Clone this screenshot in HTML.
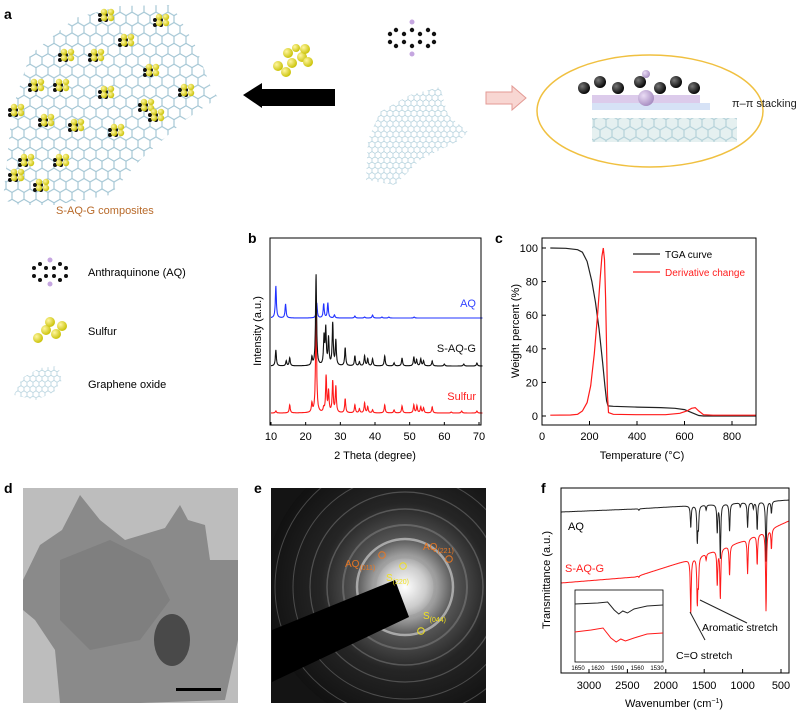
<!DOCTYPE html>
<html><head><meta charset="utf-8"><style>
html,body{margin:0;padding:0;background:#fff}
svg{display:block;font-family:"Liberation Sans",Arial,sans-serif}
</style></head><body>
<svg id="fig" width="796" height="712" viewBox="0 0 796 712" xmlns="http://www.w3.org/2000/svg">
<defs>
<pattern id="hex" width="12" height="20.8" patternUnits="userSpaceOnUse">
<path d="M0 5.2 L6 1.7 L12 5.2 M6 1.7 V-1.7 M0 5.2 V12.1 L6 15.6 L12 12.1 V5.2 M6 15.6 V20.8" fill="none" stroke="#9fc3d2" stroke-width="1.1"/>
</pattern>
<pattern id="hexs" width="6" height="10.4" patternUnits="userSpaceOnUse">
<path d="M0 2.6 L3 .9 L6 2.6 M3 .9 V-.9 M0 2.6 V6 L3 7.8 L6 6 V2.6 M3 7.8 V10.4" fill="none" stroke="#a9cbd8" stroke-width=".7"/>
</pattern>
<radialGradient id="glow" cx="0.5" cy="0.5" r="0.5">
<stop offset="0" stop-color="#fff"/><stop offset="0.15" stop-color="#ccc"/><stop offset="0.35" stop-color="#555"/><stop offset="0.6" stop-color="#252525"/><stop offset="1" stop-color="#111"/>
</radialGradient>
<radialGradient id="ball" cx="0.35" cy="0.35" r="0.7"><stop offset="0" stop-color="#fff6a0"/><stop offset="1" stop-color="#c8c000"/></radialGradient>
<radialGradient id="bball" cx="0.35" cy="0.35" r="0.7"><stop offset="0" stop-color="#777"/><stop offset="1" stop-color="#000"/></radialGradient>
<radialGradient id="pball" cx="0.35" cy="0.35" r="0.7"><stop offset="0" stop-color="#eadcf5"/><stop offset="1" stop-color="#a58bc0"/></radialGradient>
<clipPath id="clipE"><rect x="271" y="488" width="215" height="215"/></clipPath>
</defs>

<!-- Panel a -->
<text x="4" y="19" font-size="14" font-weight="bold">a</text>
<g>
<polygon points="3,200 12,110 30,55 75,18 120,6 172,5 195,45 210,85 218,98 185,120 140,160 110,195 55,205 20,205" fill="url(#hex)"/>
<g id="decor"></g>
</g>
<text x="56" y="214" font-size="11" fill="#b86a2a">S-AQ-G composites</text>
<g>
<circle cx="278" cy="66" r="5" fill="url(#ball)"/><circle cx="286" cy="72" r="5" fill="url(#ball)"/><circle cx="292" cy="63" r="5" fill="url(#ball)"/><circle cx="302" cy="57" r="5" fill="url(#ball)"/><circle cx="308" cy="62" r="5" fill="url(#ball)"/><circle cx="288" cy="53" r="5" fill="url(#ball)"/><circle cx="305" cy="49" r="5" fill="url(#ball)"/><circle cx="296" cy="48" r="4" fill="url(#ball)"/>
</g>
<g fill="#111">
<circle cx="412" cy="22" r="2.5" fill="#c5a6e0"/><circle cx="412" cy="54" r="2.5" fill="#c5a6e0"/>
<circle cx="390" cy="34" r="2.2"/><circle cx="390" cy="42" r="2.2"/><circle cx="396" cy="30" r="2.2"/><circle cx="396" cy="46" r="2.2"/><circle cx="404" cy="34" r="2.2"/><circle cx="404" cy="42" r="2.2"/><circle cx="412" cy="30" r="2.2"/><circle cx="412" cy="46" r="2.2"/><circle cx="420" cy="34" r="2.2"/><circle cx="420" cy="42" r="2.2"/><circle cx="428" cy="30" r="2.2"/><circle cx="428" cy="46" r="2.2"/><circle cx="434" cy="34" r="2.2"/><circle cx="434" cy="42" r="2.2"/>
</g>
<polygon points="243,95 262,83 262,89 335,89 335,106 262,106 262,108" fill="#000"/>
<polygon points="366,180 368,140 380,112 410,95 440,87 448,115 468,132 460,140 420,160 395,185" fill="url(#hexs)"/>
<polygon points="486,92 512,92 512,86 526,98 512,110 512,104 486,104" fill="#f8d6d2" stroke="#e39a94" stroke-width="1"/>
<g>
<ellipse cx="650" cy="111" rx="113" ry="56" fill="#fff" stroke="#f0c040" stroke-width="1.5"/>
<rect x="592" y="95" width="108" height="8" fill="#dccbeb"/>
<rect x="592" y="103" width="118" height="7" fill="#d6e2f6"/>
<rect x="592" y="118" width="145" height="24" fill="url(#hex)" opacity="0.9"/>
<rect x="592" y="118" width="145" height="24" fill="#bfdada" opacity="0.4"/>
<g id="stackballs"></g>
</g>
<text x="732" y="107" font-size="11" fill="#222">π–π stacking</text>

<g fill="#111">
<circle cx="50" cy="260" r="2.5" fill="#c5a6e0"/><circle cx="50" cy="284" r="2.5" fill="#c5a6e0"/>
<circle cx="34" cy="268" r="2"/><circle cx="34" cy="276" r="2"/><circle cx="40" cy="264" r="2"/><circle cx="40" cy="280" r="2"/><circle cx="46" cy="268" r="2"/><circle cx="46" cy="276" r="2"/><circle cx="54" cy="268" r="2"/><circle cx="54" cy="276" r="2"/><circle cx="60" cy="264" r="2"/><circle cx="60" cy="280" r="2"/><circle cx="66" cy="268" r="2"/><circle cx="66" cy="276" r="2"/>
</g>
<text x="88" y="276" font-size="11">Anthraquinone (AQ)</text>
<g>
<circle cx="38" cy="338" r="5" fill="url(#ball)"/><circle cx="46" cy="330" r="5" fill="url(#ball)"/><circle cx="56" cy="334" r="5" fill="url(#ball)"/><circle cx="62" cy="326" r="5" fill="url(#ball)"/><circle cx="50" cy="322" r="5" fill="url(#ball)"/>
</g>
<text x="88" y="335" font-size="11">Sulfur</text>
<polygon points="14,395 22,378 40,368 58,366 62,380 54,392 36,400" fill="url(#hexs)"/>
<text x="88" y="388" font-size="11">Graphene oxide</text>

<!-- Panel b -->
<text x="248" y="243" font-size="14" font-weight="bold">b</text>
<g id="pb"></g>
<rect x="270" y="238" width="211" height="187" fill="none" stroke="#000" stroke-width="1"/>
<text transform="translate(261,331) rotate(-90)" text-anchor="middle" font-size="11">Intensity (a.u.)</text>
<text x="375" y="459" text-anchor="middle" font-size="11">2 Theta (degree)</text>
<text x="476" y="307" text-anchor="end" font-size="11" fill="#3344ff">AQ</text>
<text x="476" y="352" text-anchor="end" font-size="11" fill="#111">S-AQ-G</text>
<text x="476" y="400" text-anchor="end" font-size="11" fill="#ff2020">Sulfur</text>

<!-- Panel c -->
<text x="495" y="243" font-size="14" font-weight="bold">c</text>
<g id="pc"></g>
<rect x="542" y="238" width="214" height="187" fill="none" stroke="#000" stroke-width="1"/>
<text transform="translate(519,331) rotate(-90)" text-anchor="middle" font-size="11">Weight percent (%)</text>
<text x="642" y="459" text-anchor="middle" font-size="11">Temperature (°C)</text>
<line x1="633" y1="254" x2="660" y2="254" stroke="#222" stroke-width="1.3"/>
<text x="665" y="258" font-size="10">TGA curve</text>
<line x1="633" y1="272" x2="660" y2="272" stroke="#ff2020" stroke-width="1.3"/>
<text x="665" y="276" font-size="10" fill="#ff2020">Derivative change</text>

<!-- Panel d -->
<text x="4" y="493" font-size="14" font-weight="bold">d</text>
<g>
<rect x="23" y="488" width="215" height="215" fill="#bdbdbd"/>
<path d="M23,580 L40,545 L62,530 L80,495 L100,520 L125,540 L165,528 L180,505 L188,520 L205,525 L210,560 L238,560 L238,640 L225,700 L140,703 L60,703 L55,650 L35,620 L23,610 Z" fill="#8a8a8a"/>
<path d="M60,560 L110,540 L150,560 L170,600 L140,640 L90,650 L60,620 Z" fill="#7a7a7a" opacity="0.7"/>
<ellipse cx="172" cy="640" rx="18" ry="26" fill="#333" opacity="0.75"/>
<rect x="176" y="688" width="45" height="3" fill="#000"/>
</g>

<!-- Panel e -->
<text x="254" y="493" font-size="14" font-weight="bold">e</text>
<g clip-path="url(#clipE)">
<rect x="271" y="488" width="215" height="215" fill="#141414"/>
<circle cx="405" cy="587" r="140" fill="url(#glow)"/>
<g fill="none" stroke="#999" stroke-opacity="0.4">
<circle cx="405" cy="587" r="30" stroke-width="3"/><circle cx="405" cy="587" r="48" stroke-width="2.5" stroke="#ddd" stroke-opacity="0.6"/><circle cx="405" cy="587" r="62" stroke-width="2"/><circle cx="405" cy="587" r="78" stroke-width="1.5"/><circle cx="405" cy="587" r="95" stroke-width="1.2"/><circle cx="405" cy="587" r="112" stroke-width="1"/><circle cx="405" cy="587" r="130" stroke-width="1"/>
</g>
<polygon points="272,630 395,580 409,617 272,682" fill="#000"/>
</g>
<g font-size="10">
<text x="423" y="550" fill="#e87722">AQ<tspan font-size="7" dy="3">(221)</tspan></text>
<circle cx="449" cy="559" r="3.3" fill="none" stroke="#e87722"/>
<text x="345" y="567" fill="#e87722">AQ<tspan font-size="7" dy="3">(011)</tspan></text>
<circle cx="382" cy="555" r="3.3" fill="none" stroke="#e87722"/>
<text x="386" y="581" fill="#f0e020">S<tspan font-size="7" dy="3">(220)</tspan></text>
<circle cx="403" cy="566" r="3.3" fill="none" stroke="#f0e020"/>
<text x="423" y="619" fill="#f0e020">S<tspan font-size="7" dy="3">(044)</tspan></text>
<circle cx="421" cy="631" r="3.3" fill="none" stroke="#f0e020"/>
</g>

<!-- Panel f -->
<text x="541" y="493" font-size="14" font-weight="bold">f</text>
<g id="pf"></g>
<rect x="561" y="488" width="228" height="185" fill="none" stroke="#000" stroke-width="1"/>
<text transform="translate(550,580) rotate(-90)" text-anchor="middle" font-size="11">Transmittance (a.u.)</text>
<text x="674" y="707" text-anchor="middle" font-size="11">Wavenumber (cm<tspan font-size="7" dy="-4">−1</tspan><tspan dy="4">)</tspan></text>
<text x="568" y="530" font-size="11">AQ</text>
<text x="565" y="572" font-size="11" fill="#ff2020">S-AQ-G</text>
<line x1="690" y1="612" x2="705" y2="640" stroke="#222"/>
<line x1="700" y1="600" x2="747" y2="623" stroke="#222"/>
<text x="702" y="631" font-size="10.5">Aromatic stretch</text>
<text x="676" y="659" font-size="10.5">C=O stretch</text>
<rect x="575" y="590" width="88" height="72" fill="#fff" stroke="#000" stroke-width="0.8"/>
<g id="pfi"></g>
</svg>
<script>
// ---------- XRD data (panel b) ----------
const xrdTicks=[10,20,30,40,50,60,70];
const aqPeaks=[11.4,14.2,23.2,25.2,26.4,28.3,34.2,37.0,39.3,42.0,44.0,51.3];
const aqHeights=[32,14,15,14,15,3,2,1,3,1,1,1];
const saqgPeaks=[11.4,14.4,15.4,21.8,23.0,25.3,25.8,26.6,27.8,28.7,31.4,34.2,35.5,37.0,37.9,39.3,42.8,45.5,47.8,51.2,52.0,53.2,54.0,56.5,60.0,65.6,69.4];
const saqgHeights=[16,5,8,8,91,28,36,27,42,25,18,10,4,10,7,7,10,3,8,9,6,7,5,5,2,2,3];
const sulfurPeaks=[11.4,15.4,21.8,23.0,25.2,25.9,26.6,27.8,28.7,31.4,34.2,35.5,37.0,37.9,39.3,42.8,45.5,47.8,51.2,52.1,53.2,54.0,56.5,62.0,65.0,69.4];
const sulfurHeights=[2,8,9,105,4,36,21,31,26,14,8,4,10,6,3,8,3,7,8,7,6,5,6,1,2,2];
const xrdBaselines=[318,366,413];
// ---------- TGA data (panel c) ----------
const tgaTicksX=[0,200,400,600,800];
const tgaTicksY=[0,20,40,60,80,100];
const tgaT=[35,100,150,170,190,210,225,240,255,265,272,278,300,400,500,560,600,630,660,680,900];
const tgaW=[100,99.8,99,97.5,92,80,68,52,32,18,9,6,5.8,5.3,5,4.6,3.8,2,0.3,0,0];
const dtgT=[35,120,150,170,190,205,220,235,245,252,258,263,268,272,276,280,300,400,520,580,610,630,645,660,680,720,900];
const dtgV=[0.5,0.6,1,3,8,18,37,62,82,95,100,93,70,40,12,2,1,0.8,0.8,1.6,3,4.6,5,3,0.8,0.5,0.5];
// ---------- FTIR data (panel f) ----------
const ftirTicks=[3000,2500,2000,1500,1000,500];
const aqBaseWn=[3365,2400,1750,400];
const aqBaseY=[0,3,6,12];
const aqBandWn=[2350,1675,1590,1575,1475,1330,1290,1170,1030,935,860,810,695,625];
const aqBandDepth=[1.5,22,35,20,5,28,55,28,4,25,6,28,60,12];
const sBaseWn=[3365,2400,1750,1000,400];
const sBaseY=[0,6,22,42,62];
const sBandWn=[2350,1675,1590,1575,1475,1330,1290,1170,935,810,695,625];
const sBandDepth=[1.5,55,45,25,6,35,50,30,35,30,80,20];
const insetTicks=[1650,1620,1590,1560,1530];
const insetAqWn=[1655,1620,1605,1595,1588,1582,1575,1565,1545,1521];
const insetAqY=[0,-1,-2,6,10,7,9,5,2,1];
const insetSWn=[1655,1630,1612,1600,1592,1585,1578,1565,1545,1521];
const insetSY=[0,-2,-4,6,10,7,9,6,2,1];

const NS="http://www.w3.org/2000/svg";
function mk(parent,tag,attrs){const e=document.createElementNS(NS,tag);for(const k in attrs)e.setAttribute(k,attrs[k]);parent.appendChild(e);return e;}
function interp(xs,ys,x){if(xs[0]>xs[xs.length-1]){xs=xs.slice().reverse();ys=ys.slice().reverse();}
 if(x<=xs[0])return ys[0];for(let i=1;i<xs.length;i++){if(x<=xs[i]){const t=(x-xs[i-1])/(xs[i]-xs[i-1]);return ys[i-1]+t*(ys[i]-ys[i-1]);}}return ys[ys.length-1];}

// panel b
(function(){
 const g=document.getElementById('pb');
 const xs=v=>271+(v-10)*(208/60);
 const cols=['#2233ff','#111','#ff1a1a'];
 const sets=[[aqPeaks,aqHeights],[saqgPeaks,saqgHeights],[sulfurPeaks,sulfurHeights]];
 const names=['xrd-line-aq','xrd-line-saqg','xrd-line-sulfur'];
 [2,0,1].forEach(i=>{
  const [P,H]=sets[i];let d='';
  for(let t=10.0;t<=71;t+=0.05){let s=0;for(let k=0;k<P.length;k++){const w=0.18;const u=(t-P[k])/w;s+=H[k]/(1+u*u);}
   d+=(d?'L':'M')+xs(t).toFixed(1)+','+(xrdBaselines[i]-s).toFixed(1);}
  const p=mk(g,'path',{d:d,fill:'none',stroke:cols[i],'stroke-width':1.1});
  
  
 });
 xrdTicks.forEach(v=>{
  mk(g,'line',{x1:xs(v),x2:xs(v),y1:425,y2:422,stroke:'#000'});
  const t=mk(g,'text',{x:xs(v),y:440,'text-anchor':'middle','font-size':11});t.textContent=v;
  
  
 });
})();

// panel c
(function(){
 const g=document.getElementById('pc');
 const xs=v=>542+v*(190/800), ys=v=>416-v*1.68;
 tgaTicksX.forEach(v=>{mk(g,'line',{x1:xs(v),x2:xs(v),y1:425,y2:421,stroke:'#000'});
  const t=mk(g,'text',{x:xs(v),y:440,'text-anchor':'middle','font-size':11});t.textContent=v;
  
  });
 tgaTicksY.forEach(v=>{mk(g,'line',{x1:542,x2:546,y1:ys(v),y2:ys(v),stroke:'#000'});
  const t=mk(g,'text',{x:538,y:ys(v)+4,'text-anchor':'end','font-size':11});t.textContent=v;
  
  });
 let d='';tgaT.forEach((v,i)=>{d+=(i?'L':'M')+xs(v).toFixed(1)+','+ys(tgaW[i]).toFixed(1);});
 const p1=mk(g,'path',{d:d,fill:'none',stroke:'#222','stroke-width':1.2});
 
 
 d='';dtgT.forEach((v,i)=>{d+=(i?'L':'M')+xs(v).toFixed(1)+','+ys(dtgV[i]).toFixed(1);});
 const p2=mk(g,'path',{d:d,fill:'none',stroke:'#ff1a1a','stroke-width':1.2});
 
 
})();

// panel f
(function(){
 const g=document.getElementById('pf');
 const xs=v=>589+(3000-v)*0.0768;
 ftirTicks.forEach(v=>{mk(g,'line',{x1:xs(v),x2:xs(v),y1:673,y2:669,stroke:'#000'});
  const t=mk(g,'text',{x:xs(v),y:689,'text-anchor':'middle','font-size':11});t.textContent=v;
  
  });
 function spec(bw,by,pw,pd,y0,col,name){let d='';
  for(let w=3365;w>=400;w-=3){let s=0;for(let k=0;k<pw.length;k++){const u=(w-pw[k])/7;s+=pd[k]/(1+u*u);}
   d+=(d?'L':'M')+xs(w).toFixed(1)+','+(y0-interp(bw,by,w)+s).toFixed(1);}
  const p=mk(g,'path',{d:d,fill:'none',stroke:col,'stroke-width':1});
  
  }
 spec(aqBaseWn,aqBaseY,aqBandWn,aqBandDepth,512,'#222','ftir-line-aq');
 spec(sBaseWn,sBaseY,sBandWn,sBandDepth,583,'#ff1a1a','ftir-line-saqg');
 const gi=document.getElementById('pfi');
 const xi=v=>578+(1650-v)*(79/120);
 insetTicks.forEach(v=>{const t=mk(gi,'text',{x:xi(v),y:670,'text-anchor':'middle','font-size':6});t.textContent=v;
  
  });
 function il(W,Y,y0,col,name){let d='';W.forEach((w,i)=>{d+=(i?'L':'M')+xi(w).toFixed(1)+','+(y0+Y[i]).toFixed(1);});
  const p=mk(gi,'path',{d:d,fill:'none',stroke:col,'stroke-width':1});
  
  }
 il(insetAqWn,insetAqY,604,'#222','inset-line-aq');
 il(insetSWn,insetSY,632,'#ff1a1a','inset-line-saqg');
})();

// decorative molecules on composite sheet
(function(){
 const g=document.getElementById('decor');
 const spots=[[100,15],[155,20],[120,40],[90,55],[60,55],[145,70],[30,85],[55,85],[100,92],[180,90],[140,105],[10,110],[40,120],[70,125],[110,130],[150,115],[20,160],[55,160],[10,175],[35,185]];
 spots.forEach(([x,y],i)=>{
  for(let k=0;k<4;k++)mk(g,'circle',{cx:x+(k%2)*6,cy:y+Math.floor(k/2)*5,r:2,fill:'#111'});
  for(let k=0;k<4;k++)mk(g,'circle',{cx:x+4+(k%2)*7,cy:y-3+Math.floor(k/2)*6,r:3.2,fill:'url(#ball)'});
 });
 const s=document.getElementById('stackballs');
 [584,600,618,640,660,676,694].forEach((x,i)=>mk(s,'circle',{cx:x,cy:i%2?82:88,r:6,fill:'url(#bball)'}));
 mk(s,'circle',{cx:646,cy:98,r:8,fill:'url(#pball)'});
 mk(s,'circle',{cx:646,cy:74,r:4,fill:'url(#pball)'});
})();
</script>
</body></html>
